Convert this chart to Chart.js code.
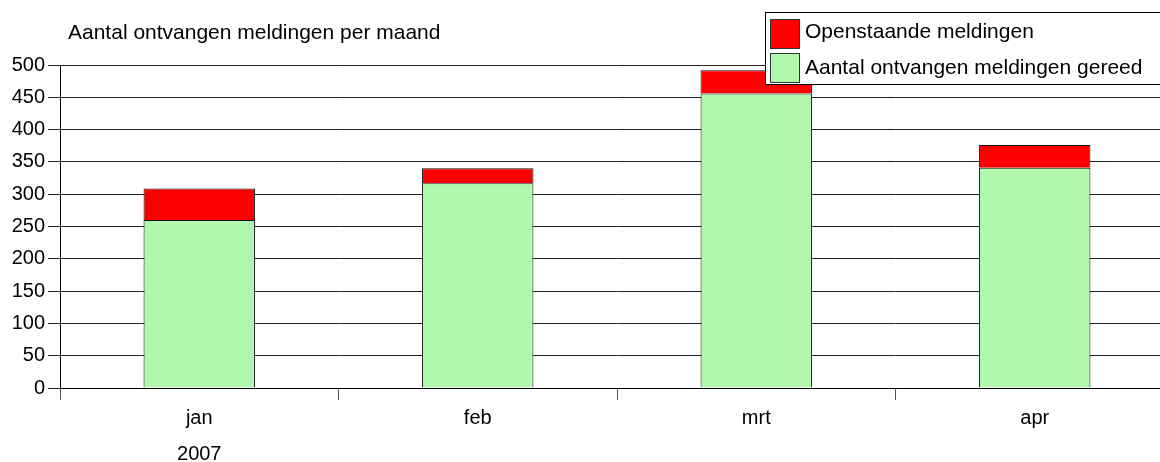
<!DOCTYPE html>
<html>
<head>
<meta charset="utf-8">
<script src="https://cdn.jsdelivr.net/npm/chart.js@4/dist/chart.umd.min.js"></script>
<style>
  html, body { margin: 0; padding: 0; background: #fff; overflow: hidden; }
  #chart { display: block; }
</style>
</head>
<body>
<canvas id="chart" width="1174" height="462"></canvas>
<script>
// Meldingen per maand, 2007
const months = ['jan', 'feb', 'mrt', 'apr'];
const year = '2007';
const gereed = [260, 317, 456, 341];
const openstaand = [49, 23, 36, 35];
const yTicks = [0, 50, 100, 150, 200, 250, 300, 350, 400, 450, 500];

const chartTitle = 'Aantal ontvangen meldingen per maand';
const FONT = '"Liberation Sans", Arial, sans-serif';

// title + legend box drawn on top of the plot
const overlay = {
  id: 'overlay',
  afterDraw(chart) {
    const ctx = chart.ctx;
    ctx.save();
    ctx.font = '21px ' + FONT;
    ctx.textBaseline = 'middle';
    ctx.fillStyle = '#000';
    ctx.fillText(chartTitle, 68, 33);

    ctx.fillStyle = '#fff';
    ctx.fillRect(765.5, 12.5, 420, 72);
    ctx.strokeStyle = '#000';
    ctx.lineWidth = 1;
    ctx.strokeRect(765.5, 12.5, 420, 72);

    const items = chart.data.datasets.slice().reverse();
    items.forEach((ds, i) => {
      const y = 19.5 + i * 34;
      ctx.fillStyle = ds.backgroundColor;
      ctx.fillRect(770.5, y, 29, 29);
      ctx.strokeStyle = '#333';
      ctx.strokeRect(770.5, y, 29, 29);
      ctx.fillStyle = '#000';
      ctx.fillText(ds.label, 805, 32 + i * 36);
    });
    ctx.restore();
  }
};

new Chart(document.getElementById('chart'), {
  type: 'bar',
  data: {
    labels: months,
    datasets: [
      {
        label: 'Aantal ontvangen meldingen gereed',
        data: gereed,
        backgroundColor: '#b0f8ae',
        borderColor: '#111',
        borderWidth: 1,
        barPercentage: 0.4,
        categoryPercentage: 1
      },
      {
        label: 'Openstaande meldingen',
        data: openstaand,
        backgroundColor: '#ff0000',
        borderColor: '#111',
        borderWidth: 1,
        barPercentage: 0.4,
        categoryPercentage: 1
      }
    ]
  },
  options: {
    responsive: false,
    animation: false,
    events: [],
    layout: { padding: { top: 65, right: 0, left: 0, bottom: 0 } },
    plugins: {
      legend: { display: false },
      title: { display: false },
      tooltip: { enabled: false }
    },
    scales: {
      x: {
        stacked: true,
        offset: true,
        grid: {
          offset: true,
          drawOnChartArea: false,
          drawTicks: true,
          tickLength: 12,
          color: '#555'
        },
        border: { display: true, color: '#000', width: 1 },
        ticks: {
          color: '#000',
          padding: 0,
          maxRotation: 0,
          font: { family: FONT, size: 20, lineHeight: 1.8 },
          callback: (v, i) => i === 0 ? [months[i], year] : months[i]
        },
        afterFit: s => { s.height = 74; }
      },
      y: {
        stacked: true,
        min: 0,
        max: 500,
        afterBuildTicks: s => { s.ticks = yTicks.map(v => ({ value: v })); },
        grid: {
          color: '#222',
          lineWidth: 1,
          drawTicks: true,
          tickLength: 12
        },
        border: { display: true, color: '#000', width: 1 },
        ticks: {
          color: '#000',
          padding: 3,
          font: { family: FONT, size: 20 }
        },
        afterFit: s => { s.width = 60; }
      }
    }
  },
  plugins: [overlay]
});
</script>
</body>
</html>
